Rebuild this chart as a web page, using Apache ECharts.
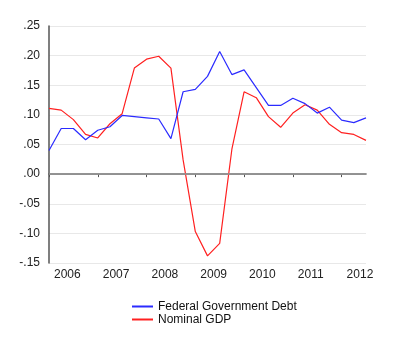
<!DOCTYPE html>
<html>
<head>
<meta charset="utf-8">
<script src="https://cdn.jsdelivr.net/npm/echarts@6/dist/echarts.min.js"></script>
<style>
  html, body { margin: 0; padding: 0; background: #fff; }
  #chart { width: 400px; height: 350px; }
</style>
</head>
<body>
<div id="chart"></div>
<script>
// quarterly, 2006Q1 .. 2012Q3
const yearLabels = ['2006', '2007', '2008', '2009', '2010', '2011', '2012'];
const federalDebt = [
  0.040, 0.077, 0.077, 0.058,
  0.074, 0.080, 0.099, 0.097,
  0.095, 0.093, 0.060, 0.139,
  0.143, 0.165, 0.207, 0.168,
  0.176, 0.146, 0.116, 0.116,
  0.128, 0.119, 0.103, 0.113,
  0.091, 0.087, 0.095
];
const nominalGdp = [
  0.111, 0.108, 0.092, 0.067,
  0.061, 0.085, 0.102, 0.179,
  0.194, 0.199, 0.179, 0.024,
  -0.097, -0.138, -0.117, 0.042,
  0.139, 0.129, 0.097, 0.079,
  0.103, 0.117, 0.108, 0.084,
  0.070, 0.067, 0.057
];

const chart = echarts.init(document.getElementById('chart'));

function pairs(arr) {
  return arr.map((v, i) => [i, v]);
}

const option = {
  animation: false,
  textStyle: { fontFamily: 'Liberation Sans, Arial, sans-serif' },
  grid: { left: 49, right: 34, top: 26, bottom: 87 },
  xAxis: {
    type: 'value',
    min: 0,
    max: federalDebt.length - 1,
    interval: 4,
    axisLine: { lineStyle: { color: '#555', width: 1.5 } },
    axisTick: { length: 3, lineStyle: { color: '#555' } },
    splitLine: { show: false },
    axisLabel: {
      showMaxLabel: false,
      color: '#222',
      fontSize: 12,
      margin: 6,
      align: 'left',
      padding: [0, 0, 0, 5],
      formatter: v => {
        const k = v / 4;
        return Number.isInteger(k) && yearLabels[k] ? yearLabels[k] : '';
      }
    }
  },
  yAxis: {
    type: 'value',
    min: -0.15,
    max: 0.25,
    interval: 0.05,
    axisLine: { show: true, lineStyle: { color: '#555', width: 1.5 } },
    axisTick: { show: false },
    splitLine: { lineStyle: { color: '#e8e8e8', width: 1 } },
    axisLabel: {
      color: '#222',
      fontSize: 12,
      margin: 9,
      formatter: v => {
        const s = Math.abs(v).toFixed(2).replace(/^0/, '');
        return (v < -1e-9 ? '-' : '') + s;
      }
    }
  },
  legend: {
    orient: 'vertical',
    left: 127,
    top: 295,
    itemWidth: 21,
    itemHeight: 2,
    itemGap: 0,
    icon: 'rect',
    textStyle: { fontSize: 12, color: '#111', lineHeight: 13, padding: [0, 0, 0, 0] },
    data: ['Federal Government Debt', 'Nominal GDP']
  },
  series: [
    {
      name: 'Federal Government Debt',
      type: 'line',
      data: pairs(federalDebt),
      showSymbol: false,
      color: '#2b2bff',
      lineStyle: { width: 1.2, color: '#2b2bff' },
      markLine: {
        silent: true,
        symbol: 'none',
        label: { show: false },
        lineStyle: { color: '#9a9a9a', width: 1.5, type: 'solid' },
        data: [{ yAxis: 0 }]
      },
      z: 3
    },
    {
      name: 'Nominal GDP',
      type: 'line',
      data: pairs(nominalGdp),
      showSymbol: false,
      color: '#ff2020',
      lineStyle: { width: 1.2, color: '#ff2020' },
      z: 2
    }
  ]
};

chart.setOption(option);
</script>
</body>
</html>
